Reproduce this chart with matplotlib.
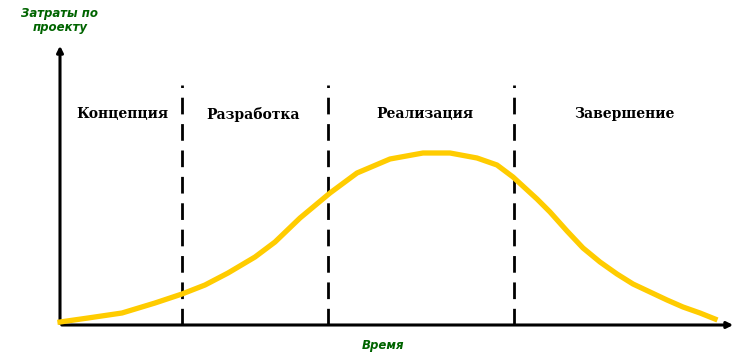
import matplotlib.pyplot as plt

# project cost curve over time (arbitrary units)
time = [0, 28, 62, 95, 122, 145, 168, 195, 215, 240, 270, 297, 330, 363, 390,
        417, 437, 453, 477, 490, 507, 523, 540, 557, 573, 590, 607, 623, 640, 655]
cost = [3, 7, 12, 22, 31, 40, 52, 68, 83, 107, 132, 152, 166, 172, 172,
        167, 160, 148, 126, 113, 94, 77, 63, 51, 41, 33, 25, 18, 12, 6]

# phase boundaries and phase labels
boundaries = [122, 268, 454]
phases = ["Концепция", "Разработка", "Реализация", "Завершение"]
phase_x = [62, 193, 365, 565]

fig = plt.figure(figsize=(7.37, 3.57), dpi=100)
ax = fig.add_axes([0, 0, 1, 1])
ax.set_xlim(-60, 677)
ax.set_ylim(-32, 325)
ax.axis("off")

# axes with arrows
ax.annotate("", xy=(0, 282), xytext=(0, -1),
            arrowprops=dict(arrowstyle="-|>", lw=2.2, color="black", mutation_scale=9))
ax.annotate("", xy=(676, 0), xytext=(-1, 0),
            arrowprops=dict(arrowstyle="-|>", lw=2.2, color="black", mutation_scale=9))

# dashed phase separators
for b in boundaries:
    ax.plot([b, b], [0, 240], color="black", lw=2.0, linestyle=(0, (6, 3.5)))

# cost curve
ax.plot(time, cost, color="#FFCC00", lw=3.8, solid_joinstyle="round", zorder=3)

# phase labels
for x, name in zip(phase_x, phases):
    ax.text(x, 211, name, ha="center", va="center", fontsize=10,
            fontweight="heavy", family="DejaVu Serif")

# axis titles
ax.text(0, 312, "Затраты по", ha="center", va="center", fontsize=8.5,
        style="italic", fontweight="bold", color="#006400")
ax.text(0, 297, "проекту", ha="center", va="center", fontsize=8.5,
        style="italic", fontweight="bold", color="#006400")
ax.text(323, -20, "Время", ha="center", va="center", fontsize=8.5,
        style="italic", fontweight="bold", color="#006400")

fig.savefig("out.png", dpi=100)
